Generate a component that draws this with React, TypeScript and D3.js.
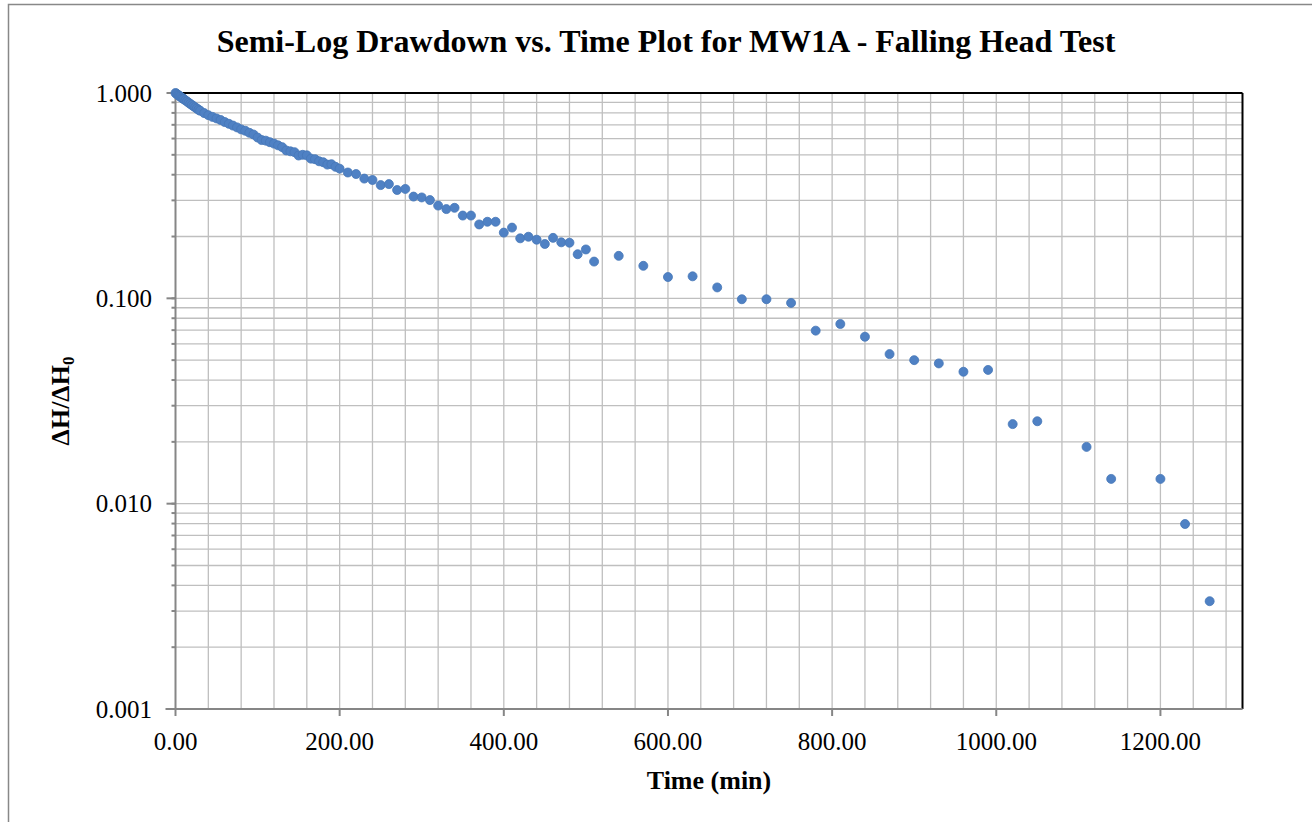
import * as d3 from "d3";

// elapsed time since start of test (min)
const times = [
  0, 1, 2, 3, 4, 5, 6, 7, 8, 9, 10, 12, 14, 16, 18, 20, 22, 24, 26, 28, 30,
  35, 40, 45, 50, 55, 60, 65, 70, 75, 80, 85, 90, 95, 100, 105, 110, 115, 120,
  125, 130, 135, 140, 145, 150, 155, 160, 165, 170, 175, 180, 185, 190, 195, 200,
  210, 220, 230, 240, 250, 260, 270, 280, 290, 300, 310, 320, 330, 340, 350, 360,
  370, 380, 390, 400, 410, 420, 430, 440, 450, 460, 470, 480, 490, 500, 510,
  540, 570, 600, 630, 660, 690, 720, 750, 780, 810, 840, 870, 900, 930, 960, 990,
  1020, 1050, 1110, 1140, 1200, 1230, 1260,
];

// normalised head ΔH/ΔH0
const ratio = [
  1.0, 0.993, 0.985, 0.979, 0.972, 0.965, 0.96, 0.952, 0.946, 0.94, 0.934, 0.921,
  0.91, 0.897, 0.885, 0.874, 0.862, 0.851, 0.84, 0.829, 0.82,
  0.798, 0.78, 0.765, 0.752, 0.739, 0.722, 0.708, 0.694, 0.68, 0.665, 0.655,
  0.64, 0.628, 0.607, 0.59, 0.586, 0.576, 0.567, 0.556, 0.545, 0.525, 0.52,
  0.515, 0.496, 0.5, 0.497, 0.479, 0.476, 0.465, 0.46, 0.448, 0.45, 0.437, 0.428,
  0.41, 0.403, 0.383, 0.377, 0.356, 0.36, 0.337, 0.341, 0.313, 0.31, 0.301,
  0.283, 0.272, 0.276, 0.253, 0.253, 0.229, 0.236, 0.236, 0.209, 0.221, 0.196,
  0.1995, 0.193, 0.184, 0.197, 0.1874, 0.1866, 0.164, 0.173, 0.151,
  0.161, 0.144, 0.127, 0.128, 0.113, 0.099, 0.099, 0.095, 0.0696, 0.075, 0.065,
  0.0535, 0.05, 0.0482, 0.0439, 0.0448,
  0.0244, 0.0252, 0.0189, 0.0132, 0.0132, 0.00796, 0.00335,
];

const xTicks = [0, 200, 400, 600, 800, 1000, 1200];
const yTicks = [1, 0.1, 0.01, 0.001];

const W = 1312;
const H = 822;
const M = { left: 175.5, right: 1242.5, top: 93, bottom: 709 };
const serif = "'Liberation Serif', 'Times New Roman', serif";

export default function App() {
  const x = d3.scaleLinear().domain([0, 1300]).range([M.left, M.right]);
  const y = d3.scaleLog().domain([0.001, 1]).range([M.bottom, M.top]);

  const vGrid = d3.range(40, 1300, 40);
  const hGrid: number[] = [];
  [0.001, 0.01, 0.1].forEach((d) => {
    for (let k = 1; k <= 9; k++) hGrid.push(d * k);
  });

  const pts = times.map((t, i) => [t, ratio[i]] as [number, number]);

  return (
    <svg
      width={W}
      height={H}
      style={{ position: "absolute", left: 0, top: 0, background: "#fff" }}
      fontFamily={serif}
    >
      <rect x={8.5} y={4.5} width={W + 10} height={H + 10} fill="#fff" stroke="#888" strokeWidth={1.5} />

      <text x={666} y={52} textAnchor="middle" fontSize={32} fontWeight="bold" fill="#000">
        Semi-Log Drawdown vs. Time Plot for MW1A - Falling Head Test
      </text>

      {/* gridlines */}
      <g stroke="#bfbfbf" strokeWidth={1.3}>
        {hGrid.map((v) => (
          <line key={"h" + v} x1={M.left} x2={M.right} y1={y(v)} y2={y(v)} />
        ))}
        {vGrid.map((v) => (
          <line key={"v" + v} x1={x(v)} x2={x(v)} y1={M.top} y2={M.bottom} />
        ))}
      </g>

      {/* plot border top/right */}
      <line x1={M.left} x2={M.right} y1={M.top} y2={M.top} stroke="#000" strokeWidth={2} />
      <line x1={M.right} x2={M.right} y1={M.top} y2={M.bottom} stroke="#000" strokeWidth={2} />

      {/* axes */}
      <g stroke="#868686" strokeWidth={2}>
        <line x1={M.left} x2={M.left} y1={M.top} y2={M.bottom} />
        <line x1={M.left - 10} x2={M.right} y1={M.bottom} y2={M.bottom} />
        {hGrid.map((v) => (
          <line key={"mt" + v} x1={M.left - 4} x2={M.left} y1={y(v)} y2={y(v)} />
        ))}
        {yTicks.map((v) => (
          <line key={"yt" + v} x1={M.left - 9} x2={M.left} y1={y(v)} y2={y(v)} />
        ))}
        {xTicks.map((v) => (
          <line key={"xt" + v} x1={x(v)} x2={x(v)} y1={M.bottom} y2={M.bottom + 7} />
        ))}
      </g>

      {yTicks.map((v) => (
        <text key={"yl" + v} x={152} y={y(v) + 8.5} textAnchor="end" fontSize={25} fill="#000">
          {d3.format(".3f")(v)}
        </text>
      ))}
      {xTicks.map((v) => (
        <text key={"xl" + v} x={x(v)} y={750} textAnchor="middle" fontSize={25} fill="#000">
          {d3.format(".2f")(v)}
        </text>
      ))}

      <text x={(M.left + M.right) / 2} y={789} textAnchor="middle" fontSize={26} fontWeight="bold">
        Time (min)
      </text>
      <text
        transform={`translate(69,${(M.top + M.bottom) / 2}) rotate(-90)`}
        textAnchor="middle"
        fontSize={26}
        fontWeight="bold"
      >
        ΔH/ΔH<tspan fontSize={17} dy={5}>0</tspan>
      </text>

      <g>
        {pts.map(([t, v], i) => (
          <circle key={i} cx={x(t)} cy={y(v)} r={4.5} fill="#4f81c4" stroke="#4677b8" strokeWidth={0.8} />
        ))}
      </g>
    </svg>
  );
}
